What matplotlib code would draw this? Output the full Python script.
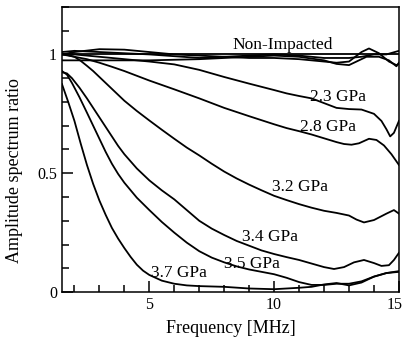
import numpy as np
import matplotlib
matplotlib.use("Agg")
from matplotlib import pyplot as plt
from matplotlib import transforms
from matplotlib.ticker import MultipleLocator

plt.rcParams['font.family'] = ['Liberation Serif', 'DejaVu Serif']

# frequency samples (MHz), one list per curve
f_ref = [1.5, 15.0]
y_ref = [1.0, 1.0]

f_a = [1.5, 2, 3, 4, 5, 6, 7, 8, 9, 10, 11, 12, 12.5, 13, 13.5, 13.8, 14.2, 14.6, 14.9, 15]
y_a = [1.0, 1.01, 1.022, 1.02, 1.01, 1.0, 0.995, 0.99, 0.985, 0.985, 0.98, 0.97, 0.965, 0.97,
       1.01, 1.025, 1.005, 0.97, 0.955, 0.96]

f_b = [1.5, 3, 5, 7, 9, 10, 11, 12, 12.5, 13, 13.3, 13.7, 14.2, 14.6, 14.9, 15]
y_b = [0.975, 0.975, 0.975, 0.98, 0.99, 0.995, 0.99, 0.975, 0.96, 0.955, 0.97, 0.99, 0.99,
       0.975, 0.95, 0.965]

f_c = [1.5, 2, 3, 5, 7, 9, 10, 11, 12, 13, 13.5, 14, 14.5, 15]
y_c = [1.01, 1.015, 1.01, 1.0, 0.985, 0.995, 1.0, 0.995, 0.985, 0.985, 0.99, 1.0, 1.0, 1.015]

f_23 = [1.5, 2, 3, 4, 5, 6, 7, 8, 9, 10, 10.5, 11, 11.5, 12, 12.5, 13, 13.5, 14, 14.3, 14.5,
        14.65, 14.8, 15]
y_23 = [1.0, 1.0, 0.99, 0.98, 0.97, 0.958, 0.935, 0.905, 0.877, 0.85, 0.836, 0.825, 0.815,
        0.795, 0.775, 0.77, 0.768, 0.75, 0.72, 0.685, 0.655, 0.67, 0.72]

f_28 = [1.5, 2, 2.5, 3, 3.5, 4, 5, 6, 7, 8, 9, 10, 10.5, 11, 11.5, 12, 12.5, 12.8, 13.1,
        13.4, 13.8, 14.1, 14.4, 14.7, 15]
y_28 = [1.0, 0.99, 0.98, 0.965, 0.948, 0.93, 0.89, 0.853, 0.815, 0.775, 0.74, 0.706, 0.69,
        0.677, 0.663, 0.647, 0.631, 0.623, 0.62, 0.626, 0.645, 0.64, 0.617, 0.58, 0.535]

f_32 = [1.5, 1.75, 2, 2.25, 2.5, 2.75, 3, 3.5, 4, 4.5, 5, 5.5, 6, 6.5, 7, 7.5, 8, 8.5, 9,
        9.5, 10, 10.5, 11, 11.5, 12, 12.5, 13, 13.3, 13.6, 14, 14.5, 14.8, 15]
y_32 = [1.0, 0.997, 0.99, 0.973, 0.952, 0.93, 0.905, 0.855, 0.805, 0.762, 0.722, 0.683,
        0.645, 0.608, 0.575, 0.54, 0.507, 0.478, 0.452, 0.428, 0.405, 0.387, 0.37, 0.355,
        0.342, 0.333, 0.322, 0.305, 0.293, 0.303, 0.33, 0.345, 0.33]

f_34 = [1.5, 1.7, 1.9, 2.2, 2.5, 2.75, 3, 3.25, 3.5, 3.75, 4, 4.5, 5, 5.5, 6, 6.5, 7, 7.5,
        8, 8.5, 9, 9.5, 10, 10.5, 11, 11.5, 12, 12.4, 12.8, 13.2, 13.6, 14, 14.3, 14.6,
        14.8, 15]
y_34 = [0.925, 0.92, 0.90, 0.86, 0.815, 0.775, 0.735, 0.695, 0.655, 0.615, 0.58, 0.52, 0.47,
        0.428, 0.39, 0.345, 0.30, 0.267, 0.24, 0.215, 0.195, 0.175, 0.16, 0.147, 0.135,
        0.12, 0.105, 0.097, 0.105, 0.125, 0.135, 0.122, 0.11, 0.113, 0.135, 0.165]

f_35 = [1.5, 1.7, 1.9, 2.2, 2.5, 2.75, 3, 3.25, 3.5, 3.75, 4, 4.5, 5, 5.5, 6, 6.5, 7, 7.5,
        8, 8.5, 9, 9.5, 10, 10.5, 11, 11.5, 12, 12.5, 13, 13.5, 14, 14.5, 15]
y_35 = [0.93, 0.915, 0.88, 0.82, 0.755, 0.70, 0.645, 0.59, 0.54, 0.497, 0.46, 0.397, 0.345,
        0.295, 0.25, 0.208, 0.172, 0.145, 0.125, 0.108, 0.095, 0.085, 0.075, 0.06, 0.042,
        0.03, 0.03, 0.035, 0.035, 0.045, 0.065, 0.08, 0.085]

f_37 = [1.5, 1.75, 2, 2.25, 2.5, 2.75, 3, 3.25, 3.5, 3.75, 4, 4.25, 4.5, 4.75, 5, 5.5, 6,
        6.5, 7, 8, 9, 10, 11, 11.5, 12, 12.5, 13, 13.5, 14, 14.5, 15]
y_37 = [0.875, 0.80, 0.72, 0.625, 0.535, 0.455, 0.385, 0.325, 0.27, 0.225, 0.185, 0.148,
        0.115, 0.09, 0.072, 0.048, 0.035, 0.028, 0.025, 0.022, 0.015, 0.012, 0.018, 0.022,
        0.032, 0.038, 0.028, 0.04, 0.065, 0.08, 0.088]

curves = [(f_ref, y_ref), (f_a, y_a), (f_b, y_b), (f_c, y_c), (f_23, y_23), (f_28, y_28),
          (f_32, y_32), (f_34, y_34), (f_35, y_35), (f_37, y_37)]

# curve labels: text, x, y
labels = [("Non-Impacted", 10.33, 1.04), ("2.3 GPa", 12.56, 0.82), ("2.8 GPa", 12.15, 0.696),
          ("3.2 GPa", 11.05, 0.443), ("3.4 GPa", 9.83, 0.233), ("3.5 GPa", 9.12, 0.12),
          ("3.7 GPa", 6.19, 0.079)]

x_ticks = [5, 10, 15]
y_ticks = [0, 0.5, 1]
y_ticklabels = ['0', '0.5', '1']

fig = plt.figure(figsize=(4.05, 3.44), dpi=100)
ax = fig.add_axes([0.153, 0.151, 0.832, 0.829])

for f, y in curves:
    ax.plot(f, y, color='black', lw=1.3)

for txt, x, y in labels:
    ax.text(x, y, txt, ha='center', va='center', fontsize=12.5)

ax.set_xlim(1.5, 15)
ax.set_ylim(0, 1.2)
ax.set_xticks(x_ticks)
ax.xaxis.set_minor_locator(MultipleLocator(1))
ax.set_yticks(y_ticks)
ax.set_yticklabels(y_ticklabels)
ax.yaxis.set_minor_locator(MultipleLocator(0.1))
ax.tick_params(which='both', direction='in', top=False, right=False, width=1.1,
               labelsize=11.5)
ax.tick_params(which='major', length=8)
ax.tick_params(which='minor', length=5)
for s in ax.spines.values():
    s.set_linewidth(1.1)

ax.set_xlabel('Frequency [MHz]', fontsize=13, labelpad=5)
ax.set_ylabel('Amplitude spectrum ratio', fontsize=13)
ax.yaxis.set_label_coords(-0.115, 0.425)

# nudge the "15" label a little to the left so it stays inside the figure
fig.canvas.draw()
last = ax.xaxis.get_major_ticks()[-1].label1
last.set_transform(last.get_transform() + transforms.ScaledTranslation(-4 / 100, 0, fig.dpi_scale_trans))

fig.savefig('out.png', dpi=100)
